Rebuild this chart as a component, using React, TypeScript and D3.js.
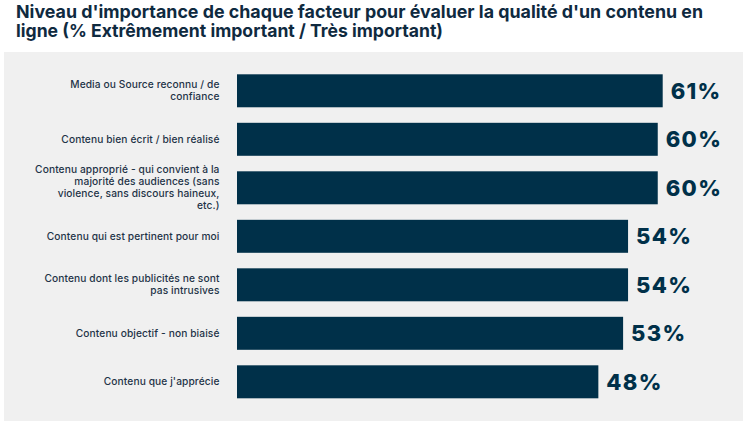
import React from "react";
import * as d3 from "d3";

const categories: string[][] = [
  ["Media ou Source reconnu / de", "confiance"],
  ["Contenu bien écrit / bien réalisé"],
  ["Contenu approprié - qui convient à la", "majorité des audiences (sans", "violence, sans discours haineux,", "etc.)"],
  ["Contenu qui est pertinent pour moi"],
  ["Contenu dont les publicités ne sont", "pas intrusives"],
  ["Contenu objectif - non biaisé"],
  ["Contenu que j'apprécie"],
];
const values: number[] = [61, 60, 60, 54, 54, 53, 48];
const titleLines: string[] = [
  "Niveau d'importance de chaque facteur pour évaluer la qualité d'un contenu en",
  "ligne (% Extrêmement important / Très important)",
];

const W = 750;
const H = 424;
const BAR = "#003049";

export default function App() {
  const keys = categories.map((_, i) => String(i));
  const y = d3.scaleBand<string>().domain(keys).range([74.3, 398.3]).paddingInner(0.32).paddingOuter(0);
  const x = d3.scaleLinear().domain([-25, 75]).range([237, 732]);
  const lh = 12;
  return (
    <svg width={W} height={H} style={{ position: "absolute", left: 0, top: 0 }} xmlns="http://www.w3.org/2000/svg">
      <rect x={0} y={0} width={W} height={H} fill="#ffffff" />
      <g fontFamily="Inter" fontWeight={700} fontSize={18} fill="#0f2a3f">
        <text x={16} y={17.5} textLength={687} lengthAdjust="spacingAndGlyphs">{titleLines[0]}</text>
        <text x={16} y={36.5} textLength={427} lengthAdjust="spacingAndGlyphs">{titleLines[1]}</text>
      </g>
      <rect x={4} y={52} width={739} height={369} fill="#f0f0f0" />
      {values.map((v, i) => {
        const k = keys[i];
        const y0 = y(k)!;
        const cy = y0 + y.bandwidth() / 2;
        const lines = categories[i];
        const startY = cy - ((lines.length - 1) * lh) / 2;
        return (
          <g key={k}>
            <rect x={x(-25)} y={y0} width={x(v) - x(-25)} height={y.bandwidth()} fill={BAR} />
            <text
              x={x(v) + 8}
              y={cy}
              dy="0.36em"
              fontFamily="Inter"
              fontWeight={800}
              fontSize={22}
              letterSpacing={1.3}
              fill={BAR}
            >
              {v}%
            </text>
            <text fontFamily="Inter" fontWeight={500} fontSize={10.2} letterSpacing={0.1} fill="#1e3347" textAnchor="end">
              {lines.map((l, j) => (
                <tspan key={j} x={219.5} y={startY + j * lh} dy="0.36em">
                  {l}
                </tspan>
              ))}
            </text>
          </g>
        );
      })}
    </svg>
  );
}
